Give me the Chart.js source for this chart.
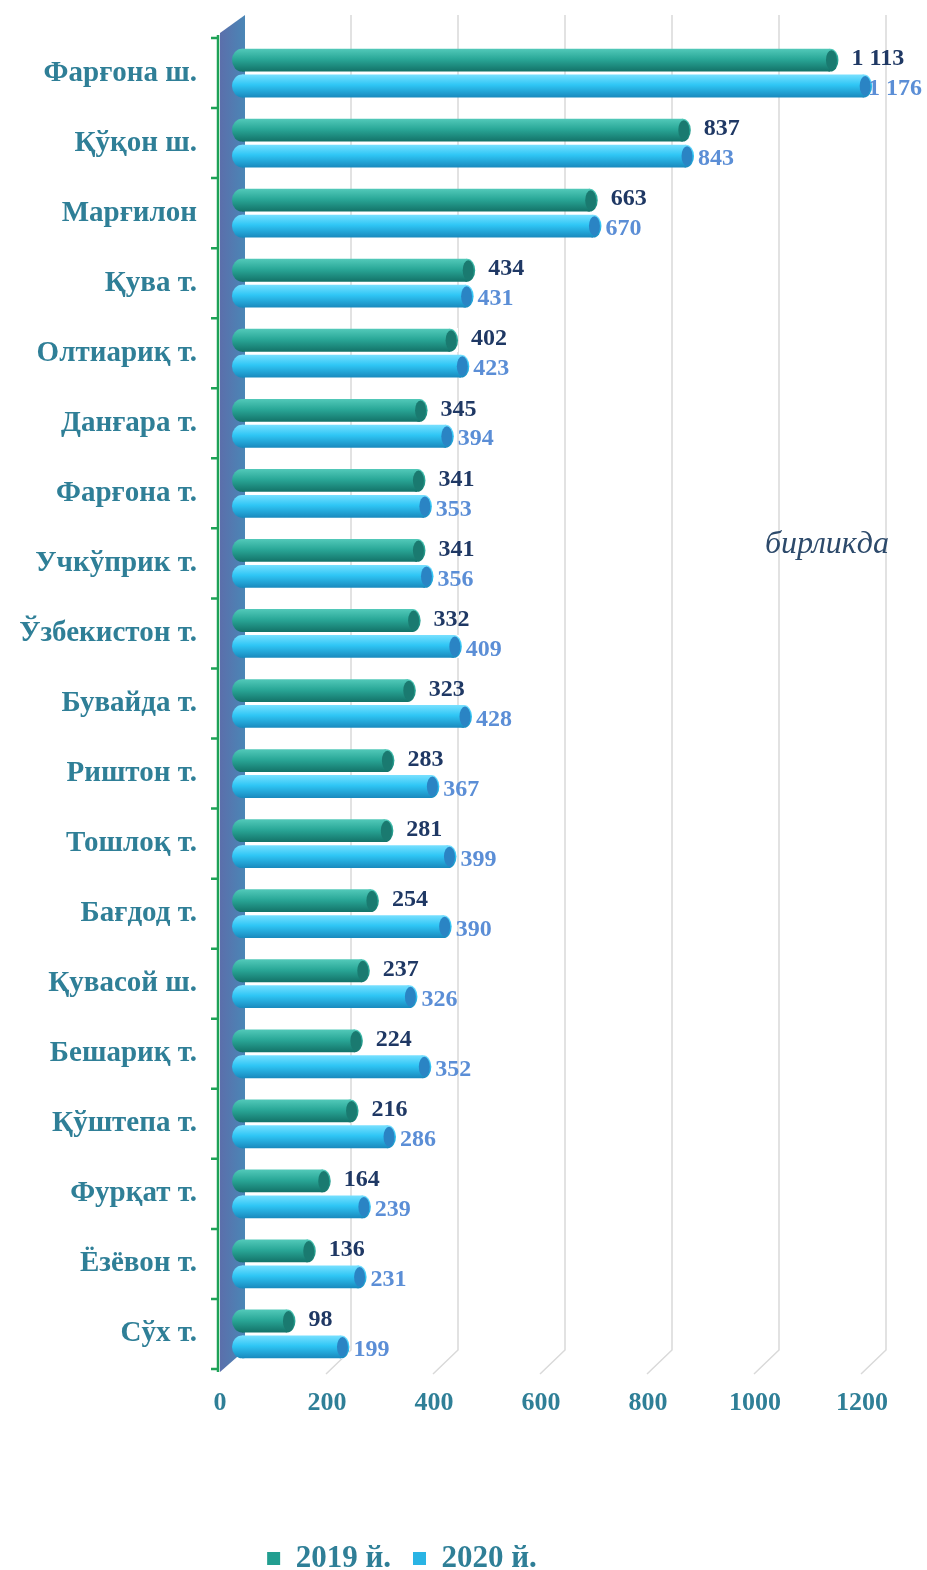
<!DOCTYPE html>
<html>
<head>
<meta charset="utf-8">
<script src="https://cdn.jsdelivr.net/npm/chart.js@4.4.1/dist/chart.umd.min.js"></script>
<style>
  html, body { margin: 0; padding: 0; background: #fff; }
</style>
</head>
<body>
<canvas id="chart" width="927" height="1570"></canvas>
<script>
// Chart data
const categories = ['Фарғона ш.', 'Қўқон ш.', 'Марғилон', 'Қува т.', 'Олтиариқ т.', 'Данғара т.', 'Фарғона т.', 'Учкўприк т.', 'Ўзбекистон т.', 'Бувайда т.', 'Риштон т.', 'Тошлоқ т.', 'Бағдод т.', 'Қувасой ш.', 'Бешариқ т.', 'Қўштепа т.', 'Фурқат т.', 'Ёзёвон т.', 'Сўх т.'];
const values2019 = [1113, 837, 663, 434, 402, 345, 341, 341, 332, 323, 283, 281, 254, 237, 224, 216, 164, 136, 98];
const values2020 = [1176, 843, 670, 431, 423, 394, 353, 356, 409, 428, 367, 399, 390, 326, 352, 286, 239, 231, 199];
const xTicks = [0, 200, 400, 600, 800, 1000, 1200];
const seriesNames = ['2019 й.', '2020 й.'];
const unitText = 'бирликда';

const CAT_PCT = 0.74;
const BAR_PCT = 0.88;
const SERIF = '"Liberation Serif", "DejaVu Serif", serif';
const TEAL_TEXT = '#2f7f97';

const palette = [
  { body: ['#52c9b9', '#2aa898', '#137268'], face: '#1a7a70', label: '#1f3864', legend: '#229e90', gap: 14 },
  { body: ['#78e0ff', '#2fc6f5', '#1989bd'], face: '#2a84c4', label: '#5b8ed6', legend: '#2ab4e4', gap: 5 }
];

function barGradient(c, y, h, stops) {
  const g = c.createLinearGradient(0, y - h / 2, 0, y + h / 2);
  g.addColorStop(0, stops[0]);
  g.addColorStop(0.45, stops[1]);
  g.addColorStop(1, stops[2]);
  return g;
}

// gradient across the thickness of each bar, placed with the y scale
function cylinderFill(ds) {
  return function(ctx) {
    const chart = ctx.chart;
    const ys = chart.scales && chart.scales.y;
    if (!ys || ctx.type !== 'data') return palette[ds].body[1];
    const band = Math.abs(ys.getPixelForValue(1) - ys.getPixelForValue(0));
    const slot = band * CAT_PCT / 2;
    const h = slot * BAR_PCT;
    const cy = ys.getPixelForValue(ctx.dataIndex) + (ds === 0 ? -1 : 1) * slot / 2;
    if (!isFinite(cy) || !isFinite(h) || h <= 0) return palette[ds].body[1];
    return barGradient(chart.ctx, cy, h, palette[ds].body);
  };
}

function fmt(v) {
  return String(v).replace(/\B(?=(\d{3})+(?!\d))/g, ' ');
}

// back grid, side wall and category axis
const decorPlugin = {
  id: 'decor',
  beforeDatasetsDraw(chart) {
    const c = chart.ctx;
    const { left, top, bottom } = chart.chartArea;
    const xs = chart.scales.x;
    const ys = chart.scales.y;
    c.save();
    c.strokeStyle = '#d9d9d9';
    c.lineWidth = 1.5;
    xTicks.forEach(function(v) {
      if (v === 0) return;
      const px = xs.getPixelForValue(v) + 2;
      c.beginPath();
      c.moveTo(px, top - 23);
      c.lineTo(px, bottom - 19);
      c.lineTo(px - 25, bottom + 5);
      c.stroke();
    });

    const wg = c.createLinearGradient(left - 22, 0, left + 3, 0);
    wg.addColorStop(0, '#5b6fab');
    wg.addColorStop(1, '#4a86b6');
    c.fillStyle = wg;
    c.beginPath();
    c.moveTo(left - 22, top - 5);
    c.lineTo(left + 3, top - 23);
    c.lineTo(left + 3, bottom - 19);
    c.lineTo(left - 22, bottom + 3);
    c.closePath();
    c.fill();

    c.strokeStyle = '#1ea257';
    c.lineWidth = 2.5;
    c.beginPath();
    c.moveTo(left - 24, top - 3);
    c.lineTo(left - 24, bottom + 3);
    for (let i = 0; i <= categories.length; i++) {
      const py = ys.getPixelForValue(i - 0.5);
      c.moveTo(left - 31, py);
      c.lineTo(left - 24, py);
    }
    c.stroke();
    c.restore();
  }
};

// cylinder caps and value labels
const capsPlugin = {
  id: 'caps',
  afterDatasetsDraw(chart) {
    const c = chart.ctx;
    c.save();
    chart.data.datasets.forEach(function(dataset, ds) {
      const meta = chart.getDatasetMeta(ds);
      meta.data.forEach(function(bar, i) {
        const p = bar.getProps(['x', 'y', 'base', 'height'], true);
        const h = p.height;
        const ex = p.x - 7;
        c.fillStyle = barGradient(c, p.y, h, palette[ds].body);
        c.beginPath();
        c.ellipse(p.base, p.y, 10, h / 2, 0, 0, Math.PI * 2);
        c.fill();
        c.clearRect(p.x - 7, p.y - h / 2 - 0.5, 8, h + 1);
        c.beginPath();
        c.ellipse(ex, p.y, 8, h / 2, 0, 0, Math.PI * 2);
        c.fill();
        c.fillStyle = palette[ds].face;
        c.beginPath();
        c.ellipse(ex + 1, p.y, 5.5, h / 2 - 1.5, 0, 0, Math.PI * 2);
        c.fill();

        c.font = 'bold 24px ' + SERIF;
        c.fillStyle = palette[ds].label;
        c.textAlign = 'left';
        c.textBaseline = 'middle';
        const text = fmt(dataset.data[i]);
        const tx = Math.min(p.x + palette[ds].gap, chart.width - 5 - c.measureText(text).width);
        c.fillText(text, tx, p.y + (ds === 0 ? -1 : 3));
      });
    });
    c.restore();
  }
};

const unitPlugin = {
  id: 'unit',
  afterDraw(chart) {
    const c = chart.ctx;
    c.save();
    c.font = 'italic 32px ' + SERIF;
    c.fillStyle = '#2d4a6b';
    c.textAlign = 'left';
    c.textBaseline = 'middle';
    c.fillText(unitText, 765, 545);
    c.restore();
  }
};

// the legend sits a little left of the chart centre
const legendShift = {
  id: 'legendShift',
  afterLayout(chart) {
    const lg = chart.legend;
    if (!lg) return;
    lg.left -= 40;
    lg.right -= 40;
  }
};

new Chart(document.getElementById('chart'), {
  type: 'bar',
  data: {
    labels: categories,
    datasets: [{
      label: seriesNames[0],
      data: values2019,
      backgroundColor: cylinderFill(0),
      borderWidth: 0,
      categoryPercentage: CAT_PCT,
      barPercentage: BAR_PCT
    }, {
      label: seriesNames[1],
      data: values2020,
      backgroundColor: cylinderFill(1),
      borderWidth: 0,
      categoryPercentage: CAT_PCT,
      barPercentage: BAR_PCT
    }]
  },
  options: {
    indexAxis: 'y',
    responsive: false,
    devicePixelRatio: 1,
    animation: false,
    layout: {
      padding: { top: 38, right: 43, bottom: -14, left: 0 }
    },
    plugins: {
      tooltip: { enabled: false },
      legend: {
        position: 'bottom',
        labels: {
          boxWidth: 13,
          boxHeight: 13,
          padding: 22,
          color: TEAL_TEXT,
          font: { family: SERIF, size: 31, weight: 'bold', lineHeight: 1 },
          generateLabels: function(chart) {
            return chart.data.datasets.map(function(d, i) {
              return {
                text: d.label,
                fillStyle: palette[i].legend,
                strokeStyle: palette[i].legend,
                lineWidth: 0,
                fontColor: TEAL_TEXT,
                datasetIndex: i
              };
            });
          }
        }
      }
    },
    scales: {
      x: {
        min: 0,
        max: 1200,
        grid: { display: false },
        border: { display: false },
        ticks: {
          stepSize: 200,
          labelOffset: -22,
          padding: 11,
          color: TEAL_TEXT,
          font: { family: SERIF, size: 26, weight: 'bold' },
          callback: function(value) { return String(value); }
        },
        afterFit: function(scale) { scale.height = 152; }
      },
      y: {
        grid: { display: false, drawTicks: false },
        border: { display: false },
        ticks: {
          padding: 45,
          color: TEAL_TEXT,
          font: { family: SERIF, size: 29, weight: 'bold' }
        },
        afterFit: function(scale) {
          scale.width = 242;
          scale.paddingTop = 0;
          scale.paddingBottom = 0;
        }
      }
    }
  },
  plugins: [decorPlugin, capsPlugin, unitPlugin, legendShift]
});
</script>
</body>
</html>
